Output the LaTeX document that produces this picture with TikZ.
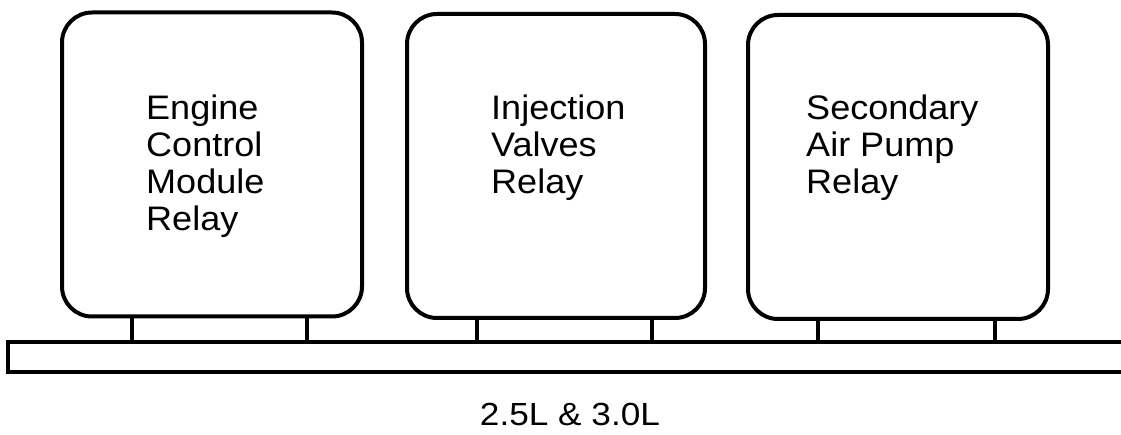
\documentclass[tikz,border=0pt]{standalone}
\usepackage{fontspec}
\setmainfont{Liberation Sans}[FakeStretch=1.06]
\begin{document}
\begin{tikzpicture}[x=1pt,y=-1pt,
  relay/.style={draw, line width=4pt, rounded corners=30pt, minimum width=#1, minimum height=304pt, inner sep=0pt},
  relay/.default=300pt,
  lbl/.style={anchor=north west, inner sep=0pt, align=left, font={\fontsize{34}{37}\selectfont}},
  busbar/.style={draw, line width=3.3pt, minimum width=1122pt, minimum height=30pt, inner sep=0pt},
  leg/.style={line width=3.3pt}]
\useasboundingbox (0,0) rectangle (1121,435);
\clip (0,0) rectangle (1121,435);
% bar
\node[busbar] (bar) at (569,357) {};
% relays
\node[relay=300pt] (ecm) at (212,164.5) {};
\node[relay=298pt] (inj) at (556,166) {};
\node[relay=300pt] (sap) at (898,167) {};
% labels
\node[lbl] (t1) at (146,95) {Engine\\Control\\Module\\Relay};
\node[lbl] (t2) at (491,95) {Injection\\Valves\\Relay};
\node[lbl] (t3) at (806,95) {Secondary\\Air Pump\\Relay};
% legs
\foreach \b/\xa/\xb in {ecm/132/307, inj/477/652, sap/818/995}{
  \draw[leg] (\b.south -| \xa,0) -- (bar.north -| \xa,0);
  \draw[leg] (\b.south -| \xb,0) -- (bar.north -| \xb,0);
}
\node[anchor=base, inner sep=0pt, font={\fontsize{32}{36}\selectfont\addfontfeatures{FakeStretch=1.1}}] (cap) at (570,425) {2.5L \& 3.0L};
\end{tikzpicture}
\end{document}
